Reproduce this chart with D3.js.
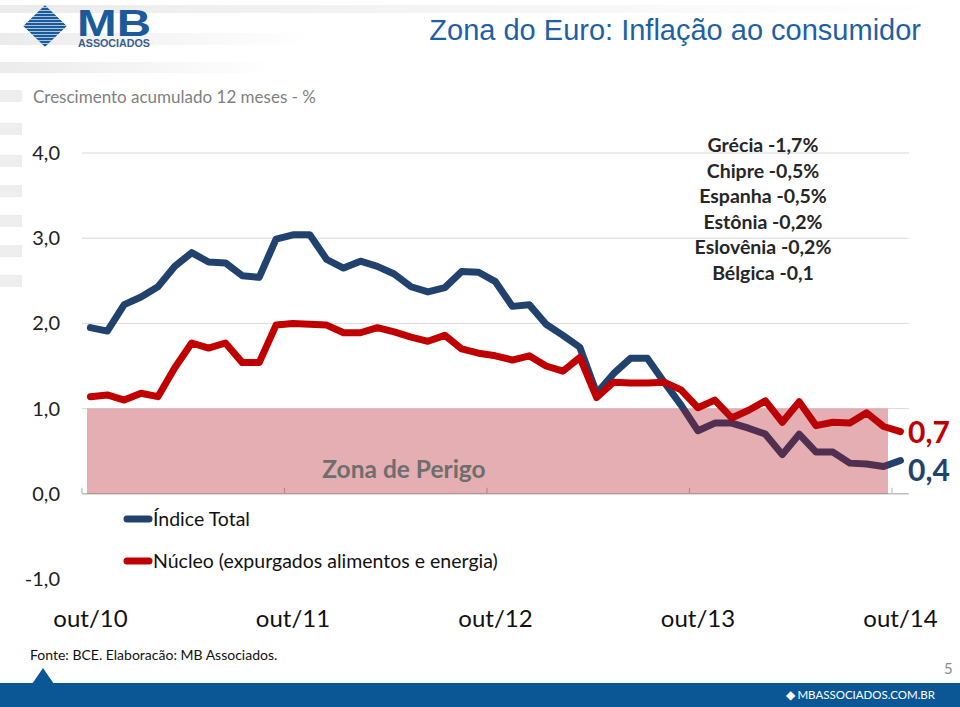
<!DOCTYPE html>
<html><head><meta charset="utf-8">
<script src="https://cdn.jsdelivr.net/npm/d3@7/dist/d3.min.js"></script>
<style>body{margin:0;background:#fff}svg{display:block}</style>
</head><body>
<script>
const months = ["out/10","nov/10","dez/10","jan/11","fev/11","mar/11","abr/11","mai/11","jun/11","jul/11","ago/11","set/11",
"out/11","nov/11","dez/11","jan/12","fev/12","mar/12","abr/12","mai/12","jun/12","jul/12","ago/12","set/12",
"out/12","nov/12","dez/12","jan/13","fev/13","mar/13","abr/13","mai/13","jun/13","jul/13","ago/13","set/13",
"out/13","nov/13","dez/13","jan/14","fev/14","mar/14","abr/14","mai/14","jun/14","jul/14","ago/14","set/14","out/14"];
const indiceTotal = [1.95,1.91,2.22,2.31,2.43,2.67,2.83,2.72,2.71,2.56,2.54,2.99,
3.04,3.04,2.75,2.65,2.73,2.67,2.58,2.43,2.37,2.42,2.61,2.60,
2.49,2.20,2.22,1.99,1.86,1.72,1.18,1.41,1.59,1.59,1.31,1.04,
0.74,0.83,0.83,0.77,0.70,0.46,0.70,0.49,0.49,0.36,0.35,0.32,0.39];
const nucleo = [1.14,1.16,1.10,1.18,1.14,1.48,1.77,1.71,1.77,1.54,1.54,1.98,
2.00,1.99,1.98,1.89,1.89,1.95,1.90,1.84,1.79,1.86,1.70,1.65,
1.62,1.57,1.62,1.50,1.44,1.60,1.13,1.31,1.30,1.30,1.31,1.22,
1.01,1.10,0.89,0.98,1.09,0.84,1.08,0.80,0.84,0.83,0.95,0.79,0.73];
const xTickLabels = ["out/10","out/11","out/12","out/13","out/14"];
const yTicks = [-1,0,1,2,3,4];
const dangerZone = [0,1];
const countries = ["Grécia -1,7%","Chipre -0,5%","Espanha -0,5%","Estônia -0,2%","Eslovênia -0,2%","Bélgica -0,1"];
const seriesNames = ["Índice Total","Núcleo (expurgados alimentos e energia)"];
const endLabels = ["0,4","0,7"];

const W=960,H=707;
const BLUE="#22426e", RED="#c00000";
const FONT="Lato, 'Open Sans', sans-serif";
const svg=d3.select("body").append("svg").attr("width",W).attr("height",H);
const defs=svg.append("defs");

// background decoration
const deco=svg.append("g");
const gr=defs.append("linearGradient").attr("id","fade");
gr.append("stop").attr("offset","0").attr("stop-color","#ebebeb");
gr.append("stop").attr("offset","1").attr("stop-color","#ffffff");
deco.append("rect").attr("x",0).attr("y",5).attr("width",950).attr("height",8).attr("fill","url(#fade)");
deco.append("rect").attr("x",0).attr("y",33).attr("width",310).attr("height",12).attr("fill","url(#fade)");
deco.append("rect").attr("x",0).attr("y",62).attr("width",275).attr("height",11).attr("fill","url(#fade)");
[90,123,155,185,215,245,275].forEach(y=>deco.append("rect").attr("x",0).attr("y",y).attr("width",22).attr("height",12).attr("fill","#eeeeee"));

// logo
const logo=svg.append("g");
const clip=defs.append("clipPath").attr("id","dia");
clip.append("path").attr("d","M45,5 L67,26 L45,47 L23,26 Z");
const lg=logo.append("g").attr("clip-path","url(#dia)");
lg.append("path").attr("d","M45,5 L67,26 L45,47 L23,26 Z").attr("fill","#1d5a9c");
for(let y=7;y<47;y+=3){lg.append("rect").attr("x",20).attr("y",y).attr("width",50).attr("height",1).attr("fill","#cfe0f0").attr("opacity",0.8);}
logo.append("text").attr("x",77).attr("y",36).attr("font-family","'Liberation Sans',Arial,sans-serif").attr("font-weight","bold").attr("font-size",36)
 .attr("fill","#1d5a9c").attr("textLength",74).attr("lengthAdjust","spacingAndGlyphs").text("MB");
logo.append("text").attr("x",78).attr("y",47).attr("font-family","'Liberation Sans',Arial,sans-serif").attr("font-weight","bold").attr("font-size",10)
 .attr("fill","#3a5f8a").attr("textLength",72).attr("lengthAdjust","spacingAndGlyphs").text("ASSOCIADOS");

// titles
svg.append("text").attr("x",921).attr("y",40).attr("text-anchor","end").attr("font-family","'Liberation Sans',Arial,sans-serif").attr("font-size",29).attr("fill","#1f5fa6").text("Zona do Euro: Inflação ao consumidor");
svg.append("text").attr("x",33).attr("y",103).attr("font-family",FONT).attr("font-size",17).attr("fill","#7f7f7f").text("Crescimento acumulado 12 meses - %");

// scales
const x=d3.scaleBand().domain(months).range([82,82+49*16.875]);
const xc=d=>x(d)+x.bandwidth()/2;
const y=d3.scaleLinear().domain([-1,4]).range([579,153]);
const x0=x.range()[0], x1=x.range()[1];

// gridlines
svg.append("g").selectAll("line").data(yTicks.filter(v=>v>0)).join("line")
 .attr("x1",x0).attr("x2",x1).attr("y1",d=>y(d)).attr("y2",d=>y(d)).attr("stroke","#d9d9d9").attr("stroke-width",1);

// y labels
svg.append("g").selectAll("text").data(yTicks).join("text")
 .attr("x",60).attr("y",d=>y(d)+7).attr("text-anchor","end").attr("font-family",FONT).attr("font-size",20).attr("fill","#222")
 .text(d=>d3.format(".1f")(d).replace(".",",").replace("−","-"));

// x axis line + ticks
svg.append("line").attr("x1",x0).attr("x2",x1).attr("y1",y(0)).attr("y2",y(0)).attr("stroke","#bfbfbf").attr("stroke-width",1.5);
svg.append("g").selectAll("line").data(xTickLabels).join("line")
 .attr("x1",d=>x(d)).attr("x2",d=>x(d)).attr("y1",y(0)).attr("y2",y(0)-6).attr("stroke","#bfbfbf").attr("stroke-width",1.2);
svg.append("g").selectAll("text").data(xTickLabels).join("text")
 .attr("x",d=>xc(d)).attr("y",627).attr("text-anchor","middle").attr("font-family",FONT).attr("font-size",24).attr("fill","#111").text(d=>d);

// lines
const line=d3.line().x((d,i)=>xc(months[i])).y(d=>y(d));
svg.append("path").datum(indiceTotal).attr("d",line).attr("fill","none").attr("stroke",BLUE).attr("stroke-width",7).attr("stroke-linejoin","round").attr("stroke-linecap","round");
svg.append("path").datum(nucleo).attr("d",line).attr("fill","none").attr("stroke",RED).attr("stroke-width",7).attr("stroke-linejoin","round").attr("stroke-linecap","round");

// danger zone (overlay)
svg.append("rect").attr("x",x(months[0])+5).attr("width",x(months[48])-4-(x(months[0])+5))
 .attr("y",y(dangerZone[1])).attr("height",y(dangerZone[0])-y(dangerZone[1]))
 .attr("fill","rgb(175,10,20)").attr("fill-opacity",0.33);
svg.append("text").attr("x",404).attr("y",478).attr("text-anchor","middle").attr("font-family",FONT).attr("font-weight","bold").attr("font-size",24.5).attr("fill","#6e6e6e").text("Zona de Perigo");

// end labels
svg.append("text").attr("x",908).attr("y",443).attr("font-family",FONT).attr("font-weight","bold").attr("font-size",30).attr("fill",RED).text(endLabels[1]);
svg.append("text").attr("x",908).attr("y",481).attr("font-family",FONT).attr("font-weight","bold").attr("font-size",30).attr("fill",BLUE).text(endLabels[0]);

// country annotation
svg.append("g").selectAll("text").data(countries).join("text")
 .attr("x",763).attr("y",(d,i)=>152+i*25.5).attr("text-anchor","middle").attr("font-family",FONT).attr("font-weight","bold").attr("font-size",19.5).attr("fill","#262626").text(d=>d);

// legend
const leg=svg.append("g");
[[BLUE,519],[RED,561]].forEach(([c,yy],i)=>{
 leg.append("line").attr("x1",127).attr("x2",149).attr("y1",yy).attr("y2",yy).attr("stroke",c).attr("stroke-width",7).attr("stroke-linecap","round");
 leg.append("text").attr("x",153).attr("y",yy+7).attr("font-family",FONT).attr("font-size",19.5).attr("fill","#111").text(seriesNames[i]);
});

// source
svg.append("text").attr("x",30).attr("y",660).attr("font-family",FONT).attr("font-size",14).attr("fill","#111").text("Fonte: BCE. Elaboracão: MB Associados.");
svg.append("text").attr("x",944).attr("y",674).attr("font-family",FONT).attr("font-size",15).attr("fill","#8c8c8c").text("5");

// footer
svg.append("rect").attr("x",0).attr("y",683).attr("width",W).attr("height",24).attr("fill","#0b5796");
svg.append("path").attr("d","M32,684 L43,668 L54,684 Z").attr("fill","#0b5796");
svg.append("text").attr("x",935).attr("y",699).attr("text-anchor","end").attr("font-family",FONT).attr("font-size",11.5).attr("fill","#fff").text("◆ MBASSOCIADOS.COM.BR");
</script>
</body></html>
